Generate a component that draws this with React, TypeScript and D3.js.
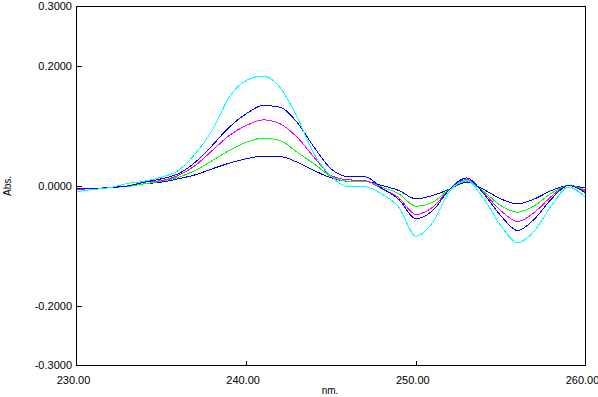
import React from 'react';
import * as d3 from 'd3';

const wavelengths = d3.range(230, 261, 1);

const cyanAbs = [-0.0092, -0.0058, -0.0025, 0.0042, 0.008, 0.0147, 0.0259, 0.0538, 0.0928, 0.1484, 0.1763, 0.1838, 0.1646, 0.115, 0.0538, 0.0165, -0.001, -0.0012, -0.0135, -0.0354, -0.0839, -0.0605, -0.0085, 0.0092, -0.0214, -0.066, -0.0949, -0.0744, -0.0326, -0.002, -0.0187];
const blueAbs = [-0.005, -0.0042, -0.0025, 0.0, 0.0064, 0.012, 0.0204, 0.0398, 0.0677, 0.0983, 0.1207, 0.1345, 0.1317, 0.1066, 0.0649, 0.0287, 0.0159, 0.0155, -0.0037, -0.0226, -0.0548, -0.0409, -0.0052, 0.0137, -0.013, -0.0493, -0.0744, -0.0548, -0.0214, 0.0008, -0.0114];
const magentaAbs = [-0.0058, -0.0042, -0.0025, 0.0, 0.0064, 0.0092, 0.0175, 0.0343, 0.0593, 0.0844, 0.1011, 0.1106, 0.104, 0.0816, 0.0481, 0.0175, 0.0104, 0.009, -0.0047, -0.0197, -0.0476, -0.0354, -0.0052, 0.0109, -0.0114, -0.0409, -0.0593, -0.0438, -0.017, 0.0008, -0.0092];
const greenAbs = [-0.0058, -0.0042, -0.0025, -0.0008, 0.0037, 0.008, 0.0147, 0.0259, 0.0426, 0.0593, 0.0732, 0.0802, 0.076, 0.0565, 0.0371, 0.0159, 0.008, 0.0078, -0.002, -0.013, -0.0338, -0.0271, -0.0052, 0.008, -0.0092, -0.0326, -0.0438, -0.0326, -0.012, 0.0008, -0.0067];
const navyAbs = [-0.0058, -0.0042, -0.0025, -0.0008, 0.0037, 0.0064, 0.012, 0.0187, 0.0287, 0.0381, 0.0455, 0.0498, 0.0493, 0.0398, 0.0259, 0.0137, 0.008, 0.0078, 0.0008, -0.0075, -0.0214, -0.0159, -0.0052, 0.0064, -0.0058, -0.0214, -0.0298, -0.0214, -0.0075, 0.0008, -0.0037];

const series = [
  { name: 'navy', color: '#0000e0', values: navyAbs },
  { name: 'green', color: '#00ff00', values: greenAbs },
  { name: 'magenta', color: '#ff00ff', values: magentaAbs },
  { name: 'blue', color: '#0000ff', values: blueAbs },
  { name: 'cyan', color: '#00ffff', values: cyanAbs },
];

const xTicks = [230, 240, 250, 260];
const yTicks = [0.3, 0.2, 0.0, -0.2, -0.3];

const width = 598;
const height = 397;
const font = 'Liberation Sans, Arial, sans-serif';

export default function App() {
  const x = d3.scaleLinear().domain([230, 260]).range([76.5, 585.5]);
  const y = d3.scaleLinear().domain([-0.3, 0.3]).range([365.5, 6.5]);

  const line = d3
    .line<[number, number]>()
    .x((d) => x(d[0]))
    .y((d) => y(d[1]))
    .curve(d3.curveMonotoneX);

  return (
    <svg
      width={width}
      height={height}
      style={{ position: 'absolute', left: 0, top: 0, background: '#fff' }}
    >
      {series.map((s) => (
        <path
          key={s.name}
          d={line(wavelengths.map((w, i) => [w, s.values[i]] as [number, number])) || ''}
          fill="none"
          stroke={s.color}
          strokeWidth={1}
          shapeRendering="crispEdges"
        />
      ))}

      {/* frame */}
      <rect
        x={x(230)}
        y={y(0.3)}
        width={x(260) - x(230)}
        height={y(-0.3) - y(0.3)}
        fill="none"
        stroke="#000"
        strokeWidth={1}
        shapeRendering="crispEdges"
      />

      {/* y ticks */}
      {yTicks.map((t) => (
        <g key={'y' + t}>
          {Math.abs(t) < 0.25 && (
            <line
              x1={x(230)}
              x2={x(230) + 5}
              y1={Math.round(y(t)) + 0.5}
              y2={Math.round(y(t)) + 0.5}
              stroke="#000"
              shapeRendering="crispEdges"
            />
          )}
          <text
            x={72}
            y={y(t)}
            dy="0.35em"
            textAnchor="end"
            fontFamily={font}
            fontSize={11}
            fill="#000"
          >
            {t.toFixed(4)}
          </text>
        </g>
      ))}

      {/* x ticks */}
      {xTicks.map((t) => (
        <g key={'x' + t}>
          {t > 230 && t < 260 && (
            <line
              x1={Math.round(x(t)) + 0.5}
              x2={Math.round(x(t)) + 0.5}
              y1={y(-0.3)}
              y2={y(-0.3) - 5}
              stroke="#000"
              shapeRendering="crispEdges"
            />
          )}
          <text
            x={x(t) - 3}
            y={384}
            textAnchor="middle"
            fontFamily={font}
            fontSize={11}
            fill="#000"
          >
            {t.toFixed(2)}
          </text>
        </g>
      ))}

      <text x={330} y={394} textAnchor="middle" fontFamily={font} fontSize={10} fill="#000">
        nm.
      </text>
      <text
        transform="translate(11,186) rotate(-90)"
        textAnchor="middle"
        fontFamily={font}
        fontSize={10}
        fill="#000"
      >
        Abs.
      </text>
    </svg>
  );
}
